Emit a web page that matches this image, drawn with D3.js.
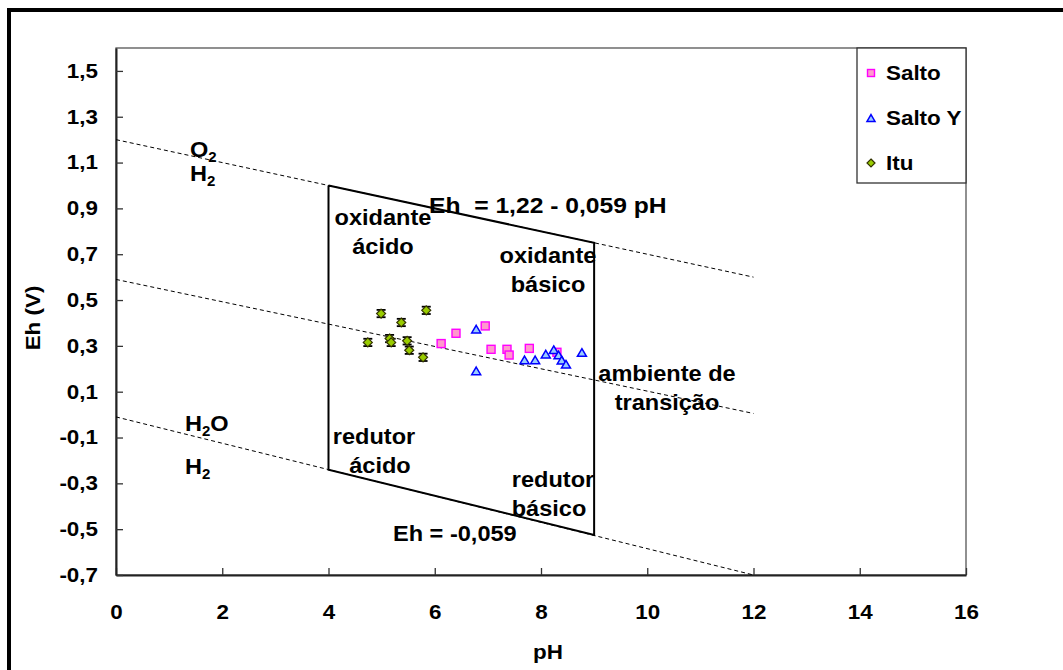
<!DOCTYPE html>
<html>
<head>
<meta charset="utf-8">
<script src="https://cdn.jsdelivr.net/npm/d3@7"></script>
<style>
html,body{margin:0;padding:0;background:#fff;overflow:hidden;}
text{font-family:"Liberation Sans",Arial,Helvetica,sans-serif;font-weight:bold;fill:#000;}
</style>
</head>
<body>
<svg id="chart" width="1063" height="670"></svg>
<script>
// ---- data ----
const xTicks = [0, 2, 4, 6, 8, 10, 12, 14, 16];
const yTicks = [1.5, 1.3, 1.1, 0.9, 0.7, 0.5, 0.3, 0.1, -0.1, -0.3, -0.5, -0.7];

const saltoPH = [6.12, 6.40, 6.95, 7.06, 7.36, 7.40, 7.78, 8.30];
const saltoEh = [0.310, 0.355, 0.387, 0.285, 0.285, 0.260, 0.289, 0.272];

const saltoYPH = [6.78, 6.78, 7.69, 7.89, 8.09, 8.24, 8.33, 8.39, 8.47, 8.77];
const saltoYEh = [0.373, 0.191, 0.239, 0.239, 0.264, 0.283, 0.260, 0.238, 0.220, 0.271];

const ituPH = [4.74, 4.99, 5.15, 5.18, 5.37, 5.48, 5.52, 5.78, 5.84];
const ituEh = [0.315, 0.441, 0.332, 0.315, 0.402, 0.322, 0.281, 0.250, 0.455];
const ituErr = [0.016, 0.016, 0.016, 0.016, 0.016, 0.016, 0.016, 0.016, 0.016];

// boundary lines [pH, Eh]
const o2Line = [[0, 1.20], [12, 0.60]];
const midLine = [[0, 0.59], [12, 0.005]];
const h2Line = [[0, -0.01], [12, -0.70]];
const boxLine = [[4, 1.00], [9, 0.75], [9, -0.525], [4, -0.24], [4, 1.00]];

const legendNames = ["Salto", "Salto Y", "Itu"];

// ---- layout ----
const svg = d3.select("#chart");
const L = 116, R = 966, T = 48, B = 575;
const STRETCH = 1.12;
const x = d3.scaleLinear().domain([0, 16]).range([L, R]);
const y = d3.scaleLinear().domain([-0.7, 1.6]).range([B, T]);
const fmt = d => d3.format(".1f")(d).replace(".", ",").replace("−", "-");

// outer frame
svg.append("rect").attr("x", 9).attr("y", 10).attr("width", 1200).attr("height", 800)
  .attr("fill", "none").attr("stroke", "#000").attr("stroke-width", 4);

// plot border
svg.append("rect").attr("x", L).attr("y", T).attr("width", R - L).attr("height", B - T)
  .attr("fill", "none").attr("stroke", "#555").attr("stroke-width", 1.3);

// axes (inward ticks)
const xAxis = d3.axisBottom(x).tickValues(xTicks).tickSizeInner(-7).tickSizeOuter(0).tickPadding(30).tickFormat(d3.format("d"));
const gx = svg.append("g").attr("transform", `translate(0,${B})`).call(xAxis);
gx.select(".domain").attr("stroke", "#222").attr("stroke-width", 2);
gx.selectAll(".tick line").attr("stroke", "#333").attr("stroke-width", 1.3);
gx.selectAll(".tick text").attr("font-size", 20).attr("fill", "#000")
  .attr("font-family", "Liberation Sans, Arial, sans-serif").attr("font-weight", "bold");

const yAxis = d3.axisLeft(y).tickValues(yTicks).tickSizeInner(-7).tickSizeOuter(0).tickPadding(18).tickFormat(fmt);
const gy = svg.append("g").attr("transform", `translate(${L},0)`).call(yAxis);
gy.select(".domain").attr("stroke", "#222").attr("stroke-width", 2);
gy.selectAll(".tick line").attr("stroke", "#333").attr("stroke-width", 1.3);
gy.selectAll(".tick text").attr("font-size", 20).attr("fill", "#000")
  .attr("font-family", "Liberation Sans, Arial, sans-serif").attr("font-weight", "bold");

// axis titles
svg.append("text").attr("x", 548).attr("y", 659).attr("text-anchor", "middle").attr("font-size", 20).text("pH");
svg.append("text").attr("transform", "translate(40,318) rotate(-90)").attr("text-anchor", "middle").attr("font-size", 20).text("Eh (V)");

// boundary lines
const line = d3.line().x(d => x(d[0])).y(d => y(d[1]));
[o2Line, midLine, h2Line].forEach(l => {
  svg.append("path").attr("d", line(l)).attr("fill", "none").attr("stroke", "#000")
    .attr("stroke-width", 1).attr("stroke-dasharray", "4,3");
});
svg.append("path").attr("d", line(boxLine)).attr("fill", "none").attr("stroke", "#000")
  .attr("stroke-width", 2).attr("stroke-linejoin", "miter");

// annotations
function label(tx, ty, str, anchor, stretch) {
  return svg.append("text").attr("x", tx).attr("y", ty).attr("text-anchor", anchor || "start")
    .attr("font-size", 22).attr("data-stretch", stretch || 1.07)
    .attr("xml:space", "preserve").style("white-space", "pre").text(str);
}
function chem(tx, ty, parts) {
  const t = svg.append("text").attr("x", tx).attr("y", ty).attr("font-size", 22).attr("data-stretch", 1.07);
  parts.forEach(p => {
    if (p[1]) t.append("tspan").attr("font-size", 14).attr("dy", 5).text(p[0]);
    else t.append("tspan").attr("dy", p[2] || 0).text(p[0]);
  });
}
chem(190, 157, [["O"], ["2", true]]);
chem(190, 181, [["H"], ["2", true]]);
chem(185, 431, [["H"], ["2", true], ["O", false, -5]]);
chem(185, 474, [["H"], ["2", true]]);

label(429, 213, "Eh  = 1,22 - 0,059 pH", "start", 1.12);
label(383, 225, "oxidante", "middle");
label(383, 254, "ácido", "middle");
label(548, 263, "oxidante", "middle");
label(548, 292, "básico", "middle");
label(667, 381, "ambiente de", "middle");
label(667, 410, "transição", "middle");
label(374, 444, "redutor", "middle");
label(380, 473, "ácido", "middle");
label(553, 487, "redutor", "middle");
label(549, 516, "básico", "middle");
label(393, 541, "Eh = -0,059");

// markers
function drawSquare(g, cx, cy, s) {
  g.append("rect").attr("x", cx - s / 2).attr("y", cy - s / 2).attr("width", s).attr("height", s)
    .attr("fill", "#ff99cc").attr("stroke", "#ff00ff").attr("stroke-width", 1.4);
}
function drawTri(g, cx, cy, s) {
  const h = s * 0.85;
  g.append("path").attr("d", `M${cx},${cy - h / 2}L${cx + s / 2},${cy + h / 2}L${cx - s / 2},${cy + h / 2}Z`)
    .attr("fill", "#99ccff").attr("stroke", "#0000ff").attr("stroke-width", 1.5);
}
function drawDia(g, cx, cy, s) {
  g.append("path").attr("d", `M${cx},${cy - s / 2}L${cx + s / 2},${cy}L${cx},${cy + s / 2}L${cx - s / 2},${cy}Z`)
    .attr("fill", "#99cc00").attr("stroke", "#333300").attr("stroke-width", 1.2);
}

const gm = svg.append("g");
// Itu error bars
ituPH.forEach((p, i) => {
  const cx = x(p), y1 = y(ituEh[i] + ituErr[i]), y2 = y(ituEh[i] - ituErr[i]);
  gm.append("line").attr("x1", cx).attr("x2", cx).attr("y1", y1).attr("y2", y2).attr("stroke", "#000").attr("stroke-width", 1.2);
  [y1, y2].forEach(yy => gm.append("line").attr("x1", cx - 4.5).attr("x2", cx + 4.5).attr("y1", yy).attr("y2", yy)
    .attr("stroke", "#000").attr("stroke-width", 1.8));
});
ituPH.forEach((p, i) => drawDia(gm, x(p), y(ituEh[i]), 9));
saltoPH.forEach((p, i) => drawSquare(gm, x(p), y(saltoEh[i]), 8));
saltoYPH.forEach((p, i) => drawTri(gm, x(p), y(saltoYEh[i]), 9));

// legend
const lg = svg.append("g");
lg.append("rect").attr("x", 857).attr("y", T).attr("width", R - 857).attr("height", 135)
  .attr("fill", "#fff").attr("stroke", "#333").attr("stroke-width", 1.3);
const legY = [73, 118, 163];
drawSquare(lg, 871, legY[0], 7);
drawTri(lg, 871, legY[1], 8);
drawDia(lg, 871, legY[2], 8);
legendNames.forEach((n, i) => {
  lg.append("text").attr("x", 886).attr("y", legY[i] + 7).attr("font-size", 20).text(n);
});

// widen text horizontally to match the reference's wide bold face
svg.selectAll("text").each(function () {
  const s = +(this.getAttribute("data-stretch") || STRETCH);
  const w = this.getComputedTextLength();
  if (w > 0) d3.select(this).attr("textLength", w * s).attr("lengthAdjust", "spacingAndGlyphs");
});
</script>
</body>
</html>
